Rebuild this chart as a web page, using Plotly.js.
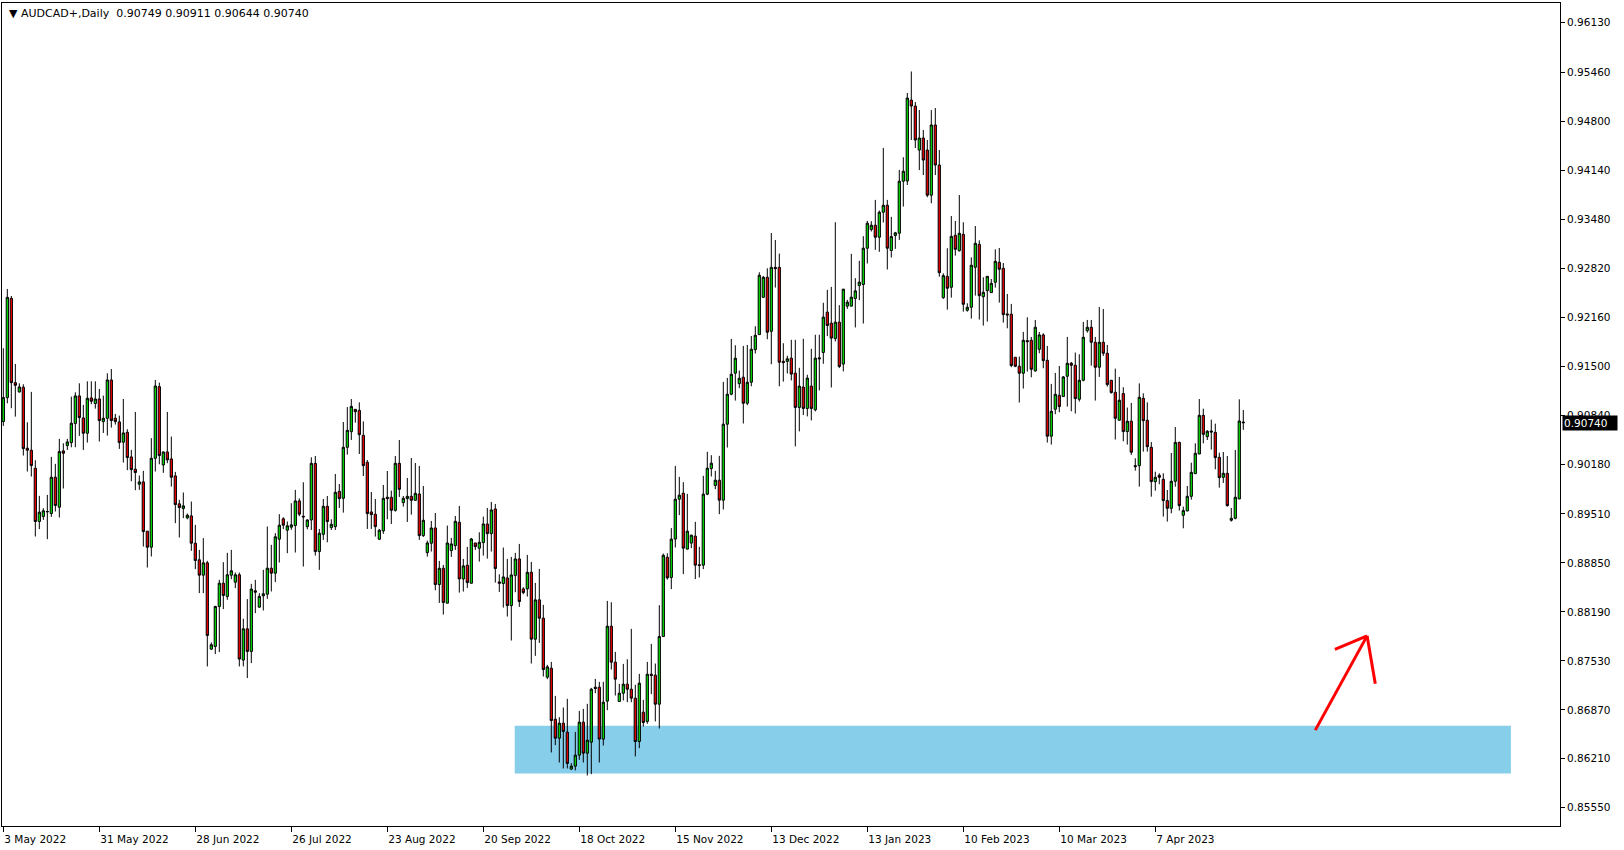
<!DOCTYPE html>
<html>
<head>
<meta charset="utf-8">
<script src="https://cdn.plot.ly/plotly-3.0.1.min.js"></script>
<style>html,body{margin:0;padding:0;background:#fff;}#chart{width:1624px;height:850px;}</style>
</head>
<body>
<div id="chart"></div>
<script>
const symbolTitle = "AUDCAD+,Daily";
const lastBar = [0.90749, 0.90911, 0.90644, 0.90740];

const openP = [
0.90755,0.91078,0.92416,0.91280,0.91155,0.91218,0.90396,0.90369,0.90126,0.89408,
0.89475,0.89538,0.89516,0.90005,0.89601,0.90360,0.90432,0.90472,0.90728,0.91101,
0.90804,0.90598,0.91074,0.90998,0.91060,0.90755,0.90800,0.91316,0.90800,0.90751,
0.90477,0.90611,0.90279,0.90113,0.89911,0.89942,0.89278,0.89062,0.90261,0.91226,
0.90171,0.90346,0.90252,0.90023,0.89646,0.89583,0.89457,0.89484,0.89116,0.88892,
0.88685,0.88851,0.87688,0.87724,0.88263,0.88577,0.88398,0.88685,0.88591,0.88690,
0.87540,0.87962,0.87657,0.88474,0.88254,0.88407,0.88429,0.88779,0.88712,0.89170,
0.89444,0.89291,0.89332,0.89354,0.89686,0.89479,0.89339,0.89429,0.90192,0.89003,
0.89236,0.89613,0.89326,0.89339,0.89815,0.89721,0.90408,0.90619,0.90920,0.90906,
0.90570,0.90206,0.89537,0.89506,0.89169,0.89281,0.89735,0.89735,0.89559,0.90192,
0.89663,0.89717,0.89748,0.89694,0.89779,0.89218,0.88989,0.89115,0.89321,0.88558,
0.88778,0.88307,0.89016,0.89083,0.89398,0.88634,0.88819,0.88576,0.89119,0.89048,
0.89124,0.89375,0.89245,0.89577,0.88594,0.88572,0.88648,0.88275,0.88679,0.88904,
0.88500,0.88500,0.88724,0.87822,0.88352,0.88105,0.87310,0.87431,0.86744,0.86488,
0.86690,0.86569,0.86071,0.86111,0.86259,0.86704,0.86286,0.86434,0.87175,0.87175,
0.86475,0.86987,0.87997,0.87512,0.86982,0.87094,0.87216,0.87148,0.87027,0.86443,
0.86838,0.86713,0.87350,0.87337,0.86946,0.87858,0.88926,0.88654,0.89171,0.89709,
0.89790,0.89036,0.89117,0.89211,0.88825,0.88820,0.89777,0.90122,0.89893,0.89965,
0.89696,0.90720,0.91124,0.91407,0.91267,0.91353,0.91002,0.91285,0.91725,0.91927,
0.92430,0.92700,0.91972,0.92834,0.92834,0.91568,0.91566,0.91610,0.91408,0.90946,
0.91220,0.90932,0.91233,0.90914,0.91615,0.91687,0.92230,0.92082,0.91875,0.92095,
0.91530,0.92311,0.92311,0.92414,0.92589,0.92603,0.93092,0.93344,0.93402,0.93240,
0.93577,0.93671,0.93061,0.93263,0.93294,0.93995,0.93998,0.95089,0.95008,0.94415,
0.94577,0.94415,0.93806,0.94753,0.94213,0.92426,0.92713,0.92565,0.93266,0.93059,
0.93279,0.92255,0.92296,0.92835,0.93144,0.92439,0.92520,0.92493,0.92633,0.92902,
0.92821,0.92206,0.92202,0.91622,0.91501,0.91407,0.91846,0.91851,0.91438,0.91729,
0.91923,0.91581,0.90558,0.90921,0.91110,0.91092,0.91366,0.91541,0.91514,0.91056,
0.91312,0.91981,0.92026,0.91824,0.91487,0.91824,0.91676,0.91312,0.91150,0.90773,
0.91132,0.90620,0.90760,0.90161,0.90161,0.91068,0.90772,0.90408,0.89946,0.90031,
0.89977,0.89690,0.89586,0.89950,0.90475,0.89492,0.89550,0.89748,0.90053,0.90318,
0.90839,0.90552,0.90628,0.90610,0.90273,0.90004,0.90058,0.89425,0.89452,0.89712,
0.90749
];

const highP = [
0.91743,0.92542,0.92448,0.91532,0.91271,0.91258,0.90746,0.91155,0.90234,0.89754,
0.89588,0.89767,0.90279,0.90185,0.90522,0.90463,0.90522,0.91092,0.91150,0.91271,
0.90980,0.91298,0.91298,0.91298,0.91195,0.91105,0.91406,0.91464,0.90858,0.90836,
0.91060,0.90652,0.90373,0.90885,0.90028,0.90091,0.89278,0.90531,0.91316,0.91280,
0.90351,0.90885,0.90553,0.90077,0.89700,0.89799,0.89516,0.89677,0.89363,0.89026,
0.89184,0.88878,0.87778,0.88272,0.88622,0.88860,0.88986,0.89026,0.88721,0.88721,
0.88097,0.88362,0.88568,0.88622,0.88443,0.88757,0.89341,0.89094,0.89251,0.89507,
0.89466,0.89408,0.89655,0.89835,0.89720,0.89937,0.89438,0.90273,0.90291,0.89308,
0.89712,0.89752,0.89438,0.90049,0.89914,0.90749,0.90951,0.91059,0.90920,0.91014,
0.90758,0.90237,0.89806,0.89712,0.89308,0.89901,0.90089,0.89824,0.90291,0.90507,
0.89752,0.89995,0.90264,0.90197,0.90157,0.89887,0.89151,0.89416,0.89523,0.88877,
0.88823,0.89353,0.89187,0.89483,0.89618,0.88904,0.89066,0.89187,0.89119,0.89263,
0.89474,0.89591,0.89672,0.89645,0.88697,0.89057,0.88904,0.88931,0.88985,0.89106,
0.88522,0.88958,0.88863,0.88581,0.88769,0.88284,0.87476,0.87516,0.87058,0.86771,
0.86901,0.87018,0.86151,0.86573,0.86856,0.86883,0.86951,0.87166,0.87287,0.87247,
0.87247,0.88338,0.88320,0.87651,0.87220,0.87489,0.87552,0.87961,0.87207,0.87355,
0.87004,0.87516,0.87759,0.87494,0.88280,0.88976,0.88980,0.89319,0.90158,0.90010,
0.89938,0.89781,0.89229,0.89404,0.89067,0.90024,0.90347,0.90302,0.90091,0.90293,
0.91290,0.91344,0.91869,0.91784,0.91443,0.91775,0.91788,0.91909,0.92040,0.92767,
0.92718,0.92821,0.93297,0.93203,0.93019,0.91811,0.91642,0.91857,0.91857,0.91480,
0.91871,0.91386,0.91736,0.91925,0.91925,0.92356,0.92531,0.92571,0.93442,0.92324,
0.92540,0.92396,0.93016,0.92688,0.92922,0.93254,0.93460,0.93456,0.93743,0.93600,
0.94444,0.93743,0.93514,0.93312,0.94147,0.94318,0.95184,0.95474,0.95062,0.94954,
0.94685,0.94550,0.94954,0.94981,0.94415,0.92754,0.93091,0.93526,0.93459,0.93809,
0.93441,0.92350,0.92969,0.93391,0.93198,0.92700,0.92713,0.92677,0.93077,0.93095,
0.92893,0.92475,0.92341,0.91622,0.91631,0.91964,0.92161,0.91896,0.92125,0.91963,
0.91945,0.91774,0.91263,0.91411,0.91505,0.91370,0.91896,0.91559,0.91685,0.91662,
0.92098,0.92125,0.92125,0.91896,0.92300,0.92273,0.91788,0.91312,0.91469,0.91357,
0.91218,0.90944,0.91007,0.90260,0.91270,0.91135,0.91014,0.90480,0.90080,0.90058,
0.90058,0.89833,0.90332,0.90682,0.90484,0.89609,0.89887,0.90201,0.90462,0.91059,
0.90929,0.90641,0.90781,0.90727,0.90336,0.90345,0.90291,0.89591,0.90372,0.91055,
0.90911
];

const lowP = [
0.90697,0.91002,0.90935,0.90822,0.91146,0.90297,0.90082,0.90014,0.89206,0.89305,
0.89430,0.89170,0.89471,0.89543,0.89462,0.89853,0.90373,0.90409,0.90409,0.90562,
0.90373,0.90472,0.90989,0.90930,0.90486,0.90602,0.90566,0.90674,0.90715,0.90387,
0.90203,0.90100,0.89951,0.89830,0.89835,0.89071,0.88788,0.88937,0.90082,0.90180,
0.90064,0.90194,0.89879,0.89386,0.89193,0.89453,0.89439,0.89013,0.88766,0.88443,
0.88443,0.87455,0.87679,0.87621,0.87648,0.88227,0.88353,0.88631,0.88510,0.87455,
0.87455,0.87298,0.87500,0.88173,0.88245,0.88209,0.88366,0.88465,0.88591,0.88856,
0.89305,0.88981,0.89296,0.88990,0.89480,0.88801,0.89303,0.89294,0.88949,0.88756,
0.89160,0.89128,0.89294,0.89294,0.89591,0.89528,0.90309,0.90507,0.90740,0.90318,
0.90022,0.89308,0.89308,0.89205,0.89160,0.89241,0.89438,0.89375,0.89541,0.89739,
0.89609,0.89402,0.89501,0.89690,0.89160,0.89200,0.88935,0.89003,0.88482,0.88311,
0.88154,0.88307,0.88931,0.89025,0.88450,0.88464,0.88513,0.88576,0.89025,0.88868,
0.88949,0.88908,0.89003,0.88585,0.88459,0.88248,0.88127,0.87804,0.88455,0.88257,
0.88428,0.88396,0.87494,0.87597,0.87772,0.87319,0.87283,0.86295,0.86394,0.86160,
0.86080,0.86080,0.86062,0.86053,0.86196,0.86160,0.85985,0.86003,0.87094,0.86160,
0.86389,0.86865,0.87413,0.87063,0.86978,0.86996,0.86973,0.86973,0.86241,0.86353,
0.86645,0.86681,0.87081,0.86713,0.86618,0.87858,0.88625,0.88497,0.89058,0.89494,
0.88699,0.89031,0.89049,0.88632,0.88654,0.88766,0.89763,0.90015,0.89844,0.89507,
0.89570,0.90405,0.91110,0.91038,0.91205,0.90729,0.90976,0.91231,0.91672,0.91927,
0.92426,0.91865,0.91528,0.92561,0.91231,0.91294,0.91404,0.91310,0.90421,0.90623,
0.90843,0.90825,0.90771,0.90892,0.91175,0.91534,0.91907,0.91215,0.91835,0.91476,
0.91431,0.92275,0.92311,0.92024,0.92392,0.92077,0.92886,0.93317,0.93070,0.93043,
0.93438,0.92805,0.92966,0.93083,0.93204,0.93653,0.93944,0.94550,0.94442,0.94145,
0.94078,0.93779,0.93698,0.94078,0.92708,0.92408,0.92264,0.92426,0.92992,0.93046,
0.92237,0.92237,0.92143,0.92453,0.92130,0.92049,0.92103,0.92493,0.92561,0.92359,
0.92089,0.92013,0.91488,0.91488,0.91012,0.91200,0.91429,0.91352,0.91429,0.91676,
0.91474,0.90472,0.90445,0.90854,0.90881,0.91092,0.90957,0.90894,0.90863,0.91025,
0.91298,0.91954,0.91509,0.91038,0.91357,0.91640,0.91227,0.91132,0.90513,0.90773,
0.90490,0.90445,0.90306,0.90094,0.89878,0.90350,0.90350,0.89743,0.89824,0.89910,
0.89474,0.89407,0.89519,0.89878,0.89555,0.89317,0.89550,0.89703,0.90053,0.90318,
0.90462,0.90507,0.90377,0.90112,0.89865,0.89928,0.89609,0.89407,0.89438,0.89712,
0.90644
];

const closeP = [
0.91078,0.92430,0.91280,0.91244,0.91222,0.90391,0.90369,0.90162,0.89408,0.89534,
0.89552,0.89543,0.90005,0.89624,0.90351,0.90328,0.90481,0.90733,0.91101,0.90809,
0.90598,0.91069,0.91029,0.91060,0.90769,0.90800,0.91316,0.90769,0.90755,0.90472,
0.90602,0.90270,0.90108,0.90068,0.89942,0.89273,0.89062,0.90261,0.91235,0.90297,
0.90346,0.90239,0.90005,0.89637,0.89597,0.89619,0.89493,0.89116,0.88883,0.88685,
0.88851,0.87872,0.87747,0.88263,0.88577,0.88411,0.88690,0.88744,0.88690,0.87554,
0.87962,0.87657,0.88497,0.88456,0.88398,0.88434,0.88779,0.88712,0.89202,0.89359,
0.89359,0.89350,0.89363,0.89686,0.89507,0.89470,0.89429,0.90192,0.89003,0.89250,
0.89613,0.89407,0.89371,0.89802,0.89717,0.90408,0.90637,0.90960,0.90888,0.90579,
0.90161,0.89515,0.89501,0.89339,0.89290,0.89721,0.89717,0.89559,0.90192,0.89842,
0.89721,0.89748,0.89694,0.89788,0.89218,0.89425,0.89119,0.89321,0.88558,0.88778,
0.88316,0.89119,0.89106,0.89411,0.88634,0.88810,0.88585,0.89173,0.89070,0.89128,
0.89375,0.89245,0.89564,0.88774,0.88576,0.88661,0.88275,0.88688,0.88904,0.88329,
0.88450,0.88724,0.87822,0.88352,0.88105,0.87413,0.87449,0.86726,0.86488,0.86690,
0.86578,0.86147,0.86111,0.86259,0.86704,0.86286,0.86461,0.87148,0.87157,0.86475,
0.86973,0.87997,0.87512,0.87283,0.87094,0.87216,0.87148,0.87027,0.86443,0.87229,
0.86699,0.87350,0.87332,0.86946,0.87858,0.88953,0.88648,0.89171,0.89709,0.89763,
0.89049,0.89278,0.89224,0.88820,0.88816,0.89777,0.90127,0.90194,0.89965,0.89696,
0.90720,0.91124,0.91393,0.91609,0.91339,0.91002,0.91285,0.91730,0.91918,0.92727,
0.92700,0.91959,0.92834,0.92816,0.91555,0.91550,0.91601,0.91395,0.90946,0.91233,
0.90932,0.91341,0.90932,0.91610,0.91601,0.92163,0.92050,0.91880,0.92095,0.91498,
0.92540,0.92365,0.92432,0.92517,0.92634,0.93092,0.93429,0.93402,0.93240,0.93577,
0.93671,0.93092,0.93249,0.93299,0.93995,0.94129,0.95116,0.95008,0.94550,0.94577,
0.94280,0.93806,0.94753,0.94213,0.92762,0.92722,0.92552,0.93252,0.93077,0.93293,
0.92336,0.92296,0.92862,0.93158,0.92453,0.92498,0.92713,0.92619,0.92915,0.92808,
0.92197,0.92193,0.91510,0.91501,0.91407,0.91851,0.91833,0.91460,0.92026,0.91923,
0.91577,0.90558,0.90894,0.91123,0.90957,0.91357,0.91541,0.91514,0.91065,0.91312,
0.91891,0.92026,0.91824,0.91487,0.91824,0.91676,0.91254,0.91146,0.90800,0.91043,
0.90620,0.90760,0.90342,0.90148,0.91082,0.90767,0.90417,0.89946,0.90004,0.90004,
0.89690,0.89586,0.89950,0.90475,0.89622,0.89555,0.89748,0.90071,0.90327,0.90839,
0.90583,0.90624,0.90615,0.90269,0.89999,0.90058,0.89622,0.89452,0.89735,0.90763,
0.90740
];

const dateTickIndex = [0,24,48,72,96,120,144,168,192,216,240,264,288];
const dateTickLabels = ["3 May 2022","31 May 2022","28 Jun 2022","26 Jul 2022","23 Aug 2022","20 Sep 2022","18 Oct 2022","15 Nov 2022","13 Dec 2022","13 Jan 2023","10 Feb 2023","10 Mar 2023","7 Apr 2023"];
const priceTicks = [0.96130,0.95460,0.94800,0.94140,0.93480,0.92820,0.92160,0.91500,0.90840,0.90180,0.89510,0.88850,0.88190,0.87530,0.86870,0.86210,0.85550];

// support zone (bar index range, price range) and arrow drawing (bar index, price)
const zoneBars = [127.85, 376.9];
const zonePrices = [0.86013, 0.86654];
const arrowStart = [328.0, 0.86596];
const arrowTip = [340.95, 0.87867];
const arrowHeadL = [332.9, 0.87684];
const arrowHeadR = [343.0, 0.87223];

const barIndex = openP.map((_, i) => i);

const trace = {
  type: 'candlestick',
  x: barIndex,
  open: openP, high: highP, low: lowP, close: closeP,
  increasing: { line: { color: '#000000', width: 1 }, fillcolor: '#00e000' },
  decreasing: { line: { color: '#000000', width: 1 }, fillcolor: '#f00000' },
  whiskerwidth: 0,
  hoverinfo: 'none',
  showlegend: false
};

const axisFont = { family: 'DejaVu Sans', size: 10.5, color: '#000000' };
const redLine = { color: '#ff0000', width: 3 };

const layout = {
  width: 1624, height: 850,
  margin: { l: 2, r: 64, t: 3, b: 24, pad: 0 },
  paper_bgcolor: '#ffffff', plot_bgcolor: '#ffffff',
  showlegend: false,
  boxgap: 0.2,
  xaxis: {
    range: [-0.33, 389.18],
    rangeslider: { visible: false },
    tickmode: 'array', tickvals: dateTickIndex, ticktext: dateTickLabels,
    ticks: 'outside', ticklen: 5, tickcolor: '#000000', tickwidth: 1,
    ticklabelposition: 'outside right',
    ticklabelstandoff: 3,
    tickfont: axisFont,
    showgrid: false, zeroline: false,
    showline: true, mirror: true, linecolor: '#000000', linewidth: 1,
    fixedrange: true
  },
  yaxis: {
    side: 'right',
    range: [0.85304, 0.96397],
    tickmode: 'array', tickvals: priceTicks, ticktext: priceTicks.map(v => v.toFixed(5)),
    ticks: 'outside', ticklen: 4, tickcolor: '#000000', tickwidth: 1,
    tickfont: axisFont,
    showgrid: false, zeroline: false,
    showline: true, mirror: true, linecolor: '#000000', linewidth: 1,
    fixedrange: true
  },
  shapes: [
    { type: 'rect', xref: 'x', yref: 'y', x0: zoneBars[0], x1: zoneBars[1], y0: zonePrices[0], y1: zonePrices[1],
      fillcolor: '#87ceeb', line: { width: 0 }, layer: 'below' },
    { type: 'line', xref: 'x', yref: 'y', x0: arrowStart[0], y0: arrowStart[1], x1: arrowTip[0], y1: arrowTip[1], line: redLine },
    { type: 'line', xref: 'x', yref: 'y', x0: arrowHeadL[0], y0: arrowHeadL[1], x1: arrowTip[0], y1: arrowTip[1], line: redLine },
    { type: 'line', xref: 'x', yref: 'y', x0: arrowTip[0], y0: arrowTip[1], x1: arrowHeadR[0], y1: arrowHeadR[1], line: redLine }
  ],
  annotations: [
    { xref: 'paper', yref: 'paper', x: 0, y: 1, xanchor: 'left', yanchor: 'top', xshift: 5, yshift: -2,
      showarrow: false, align: 'left',
      text: '\u25BC\u00a0' + symbolTitle + '\u00a0\u00a0' + lastBar.map(v => v.toFixed(5)).join(' '),
      font: { family: 'DejaVu Sans', size: 11, color: '#000000' } },
    { xref: 'paper', yref: 'y', x: 1, y: lastBar[3], xanchor: 'left', yanchor: 'middle', xshift: 2,
      showarrow: false, text: lastBar[3].toFixed(5), bgcolor: '#000000', borderpad: 1,
      width: 52, align: 'left',
      font: { family: 'DejaVu Sans', size: 10.5, color: '#ffffff' } }
  ]
};

Plotly.newPlot('chart', [trace], layout, { displayModeBar: false, staticPlot: true });
</script>
</body>
</html>
